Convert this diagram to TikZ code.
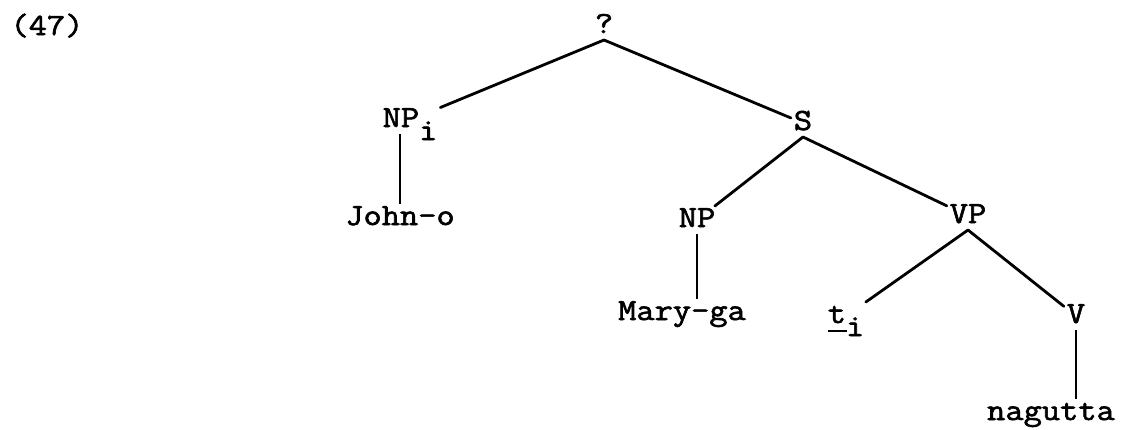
\documentclass[tikz,border=0pt]{standalone}
\usepackage{fontspec}
\setmonofont{Latin Modern Mono}[FakeStretch=1.15, FakeBold=2]
\usetikzlibrary{positioning}

\newcommand{\idx}[1]{\raisebox{-13pt}{#1}}
\newcommand{\trace}[1]{\rlap{\rule[-9pt]{19pt}{2pt}}#1}

\begin{document}
\begin{tikzpicture}[
    x=1pt, y=-1pt,
    on grid,
    font=\fontsize{30.8}{36}\selectfont\ttfamily,
    cat/.style={inner sep=3pt, outer sep=0pt, text height=18pt, text depth=4pt},
    branch/.style={draw, line width=2.8pt, line cap=round},
    stem/.style={draw, line width=2.2pt}
]
\useasboundingbox (0,0) rectangle (1132,429);

% Nodes
\node[cat] (ex) at (47,28) {(47)};
\node[cat] (q) at (604,26) {?};
\node[cat, below left=94pt and 194pt of q] (npi) {NP\idx{i}};
\node[cat, below right=97pt and 199pt of q] (s) {S};
\node[cat, below left=98pt and 10pt of npi] (john) {John-o};
\node[cat, below left=97pt and 106pt of s] (np) {NP};
\node[cat, below right=93pt and 165pt of s] (vp) {VP};
\node[cat, below left=93pt and 15pt of np] (mary) {Mary-ga};
\node[cat, below left=100pt and 122pt of vp] (ti) {\trace{t}\idx{i}};
\node[cat, below right=100pt and 108pt of vp] (v) {V};
\node[cat, below left=97pt and 25pt of v] (nag) {nagutta};

% Branches
\draw[branch] (q.south) -- (npi);
\draw[branch] (q.south) -- (s);
\draw[branch] (s.south) -- (np);
\draw[branch] (s.south) -- (vp);
\draw[branch] (vp.south) -- (ti);
\draw[branch] (vp.south) -- (v);

% Unary stems
\draw[stem] (npi.south -| john) -- (john);
\draw[stem] (np) -- (np |- mary.north);
\draw[stem] (v) -- (v |- nag.north);

\end{tikzpicture}
\end{document}
